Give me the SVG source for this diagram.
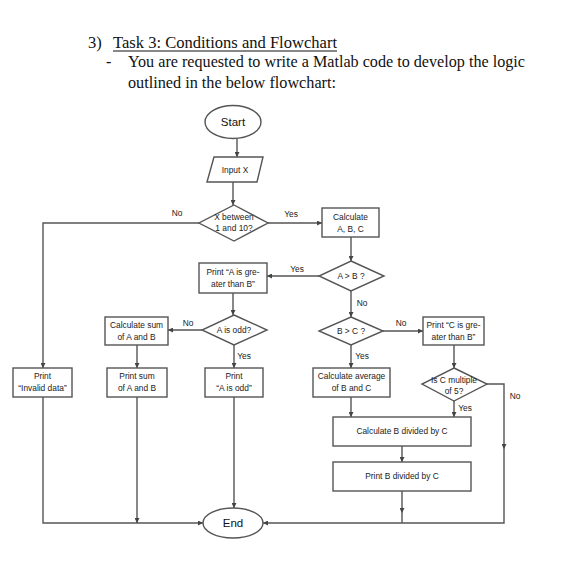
<svg xmlns="http://www.w3.org/2000/svg" width="584" height="584" viewBox="0 0 584 584">
<style>
.bx{fill:#fff;stroke:#555;stroke-width:1.4}
.ln{fill:none;stroke:#555;stroke-width:1.4}
.t{font-family:"Liberation Sans",Arial,sans-serif;font-size:8.4px;fill:#222;text-anchor:middle}
.lb{font-family:"Liberation Sans",Arial,sans-serif;font-size:8.4px;fill:#222;text-anchor:middle}
.big{font-family:"Liberation Sans",Arial,sans-serif;font-size:11.5px;fill:#111;text-anchor:middle}
.hd{font-family:"Liberation Serif","Times New Roman",serif;fill:#111}
</style>
<defs>
<marker id="ah" markerWidth="5" markerHeight="5" refX="5" refY="2.5" orient="auto" markerUnits="userSpaceOnUse">
<path d="M0,0 L5,2.5 L0,5 z" fill="#444"/>
</marker>
</defs>
<rect width="584" height="584" fill="#fff"/>
<g id="header">
<text class="hd" x="88" y="48" font-size="16.5">3)</text>
<text class="hd" x="113" y="48" font-size="16.5" textLength="224" lengthAdjust="spacingAndGlyphs">Task 3: Conditions and Flowchart</text>
<line x1="113" y1="51" x2="337" y2="51" stroke="#111" stroke-width="1"/>
<text class="hd" x="106" y="67" font-size="16">-</text>
<text class="hd" x="128" y="67" font-size="16" textLength="397" lengthAdjust="spacingAndGlyphs">You are requested to write a Matlab code to develop the logic</text>
<text class="hd" x="128" y="88" font-size="16" textLength="208" lengthAdjust="spacingAndGlyphs">outlined in the below flowchart:</text>
</g>
<g id="connectors">
<path class="ln" d="M237,139 V157" marker-end="url(#ah)"/>
<path class="ln" d="M233,182 V205" marker-end="url(#ah)"/>
<path class="ln" d="M268,223 H322" marker-end="url(#ah)"/>
<path class="ln" d="M199,223 H43 V368" marker-end="url(#ah)"/>
<path class="ln" d="M351,237 V261" marker-end="url(#ah)"/>
<path class="ln" d="M319,276 H267" marker-end="url(#ah)"/>
<path class="ln" d="M233,293 V315" marker-end="url(#ah)"/>
<path class="ln" d="M202,330 H168" marker-end="url(#ah)"/>
<path class="ln" d="M137,345 V368" marker-end="url(#ah)"/>
<path class="ln" d="M234,345 V368" marker-end="url(#ah)"/>
<path class="ln" d="M351,291 V317" marker-end="url(#ah)"/>
<path class="ln" d="M383,331 H423" marker-end="url(#ah)"/>
<path class="ln" d="M351,345 V368" marker-end="url(#ah)"/>
<path class="ln" d="M454,345 V368" marker-end="url(#ah)"/>
<path class="ln" d="M454,401 V417" marker-end="url(#ah)"/>
<path class="ln" d="M351,397 V417" marker-end="url(#ah)"/>
<path class="ln" d="M402,446 V462" marker-end="url(#ah)"/>
<path class="ln" d="M402,491 V513" marker-end="url(#ah)"/>
<path class="ln" d="M402,513 V523"/>
<path class="ln" d="M487,384 H504 V449" marker-end="url(#ah)"/>
<path class="ln" d="M504,449 V523 H263" marker-end="url(#ah)"/>
<path class="ln" d="M43,397 V523 H203" marker-end="url(#ah)"/>
<path class="ln" d="M137,397 V523" marker-end="url(#ah)"/>
<path class="ln" d="M234,397 V508" marker-end="url(#ah)"/>
<text class="lb" x="177" y="216">No</text>
<text class="lb" x="291" y="217">Yes</text>
<text class="lb" x="297" y="272">Yes</text>
<text class="lb" x="188" y="326">No</text>
<text class="lb" x="244" y="359">Yes</text>
<text class="lb" x="362" y="306">No</text>
<text class="lb" x="401" y="326">No</text>
<text class="lb" x="362" y="359">Yes</text>
<text class="lb" x="465" y="411">Yes</text>
<text class="lb" x="515" y="399">No</text>
</g>
<g id="start">
<ellipse class="bx" cx="233" cy="122" rx="28" ry="16.5"/>
<text class="big" x="233" y="126">Start</text>
</g>
<g id="input">
<polygon class="bx" points="214,157 263,157 257,182 207,182"/>
<text class="t" x="235" y="173">Input X</text>
</g>
<g id="dec-range">
<polygon class="bx" points="234,205 268,223 234,241 199,223"/>
<text class="t" x="234" y="220">X between</text>
<text class="t" x="234" y="231">1 and 10?</text>
</g>
<g id="calc-abc">
<rect class="bx" x="322" y="208" width="57" height="29"/>
<text class="t" x="350.5" y="220">Calculate</text>
<text class="t" x="350.5" y="232">A, B, C</text>
</g>
<g id="dec-agtb">
<polygon class="bx" points="351,261 384,276 351,291 319,276"/>
<text class="t" x="351" y="279">A &gt; B ?</text>
</g>
<g id="print-agtb">
<rect class="bx" x="199" y="263" width="68" height="30"/>
<text class="t" x="233" y="275">Print “A is gre-</text>
<text class="t" x="233" y="287">ater than B”</text>
</g>
<g id="dec-aodd">
<polygon class="bx" points="234,315 267,330 234,345 202,330"/>
<text class="t" x="234" y="333">A is odd?</text>
</g>
<g id="calc-sum">
<rect class="bx" x="105" y="317" width="63" height="28"/>
<text class="t" x="136.5" y="328">Calculate sum</text>
<text class="t" x="136.5" y="340">of A and B</text>
</g>
<g id="print-invalid">
<rect class="bx" x="13" y="368" width="59" height="29"/>
<text class="t" x="42.5" y="379">Print</text>
<text class="t" x="42.5" y="391">“Invalid data”</text>
</g>
<g id="print-sum">
<rect class="bx" x="107" y="368" width="60" height="29"/>
<text class="t" x="137" y="379">Print sum</text>
<text class="t" x="137" y="391">of A and B</text>
</g>
<g id="print-aodd">
<rect class="bx" x="205" y="368" width="58" height="29"/>
<text class="t" x="234" y="379">Print</text>
<text class="t" x="234" y="391">“A is odd”</text>
</g>
<g id="dec-bgtc">
<polygon class="bx" points="351,317 383,331 351,345 319,331"/>
<text class="t" x="351" y="334">B &gt; C ?</text>
</g>
<g id="print-cgtb">
<rect class="bx" x="423" y="317" width="61" height="28"/>
<text class="t" x="453.5" y="328">Print “C is gre-</text>
<text class="t" x="453.5" y="340">ater than B”</text>
</g>
<g id="calc-avg">
<rect class="bx" x="313" y="368" width="77" height="29"/>
<text class="t" x="351.5" y="379">Calculate average</text>
<text class="t" x="351.5" y="391">of B and C</text>
</g>
<g id="dec-mult5">
<polygon class="bx" points="454,368 487,384 454,401 422,384"/>
<text class="t" x="454" y="383">Is C multiple</text>
<text class="t" x="454" y="394">of 5?</text>
</g>
<g id="calc-div">
<rect class="bx" x="333" y="417" width="138" height="29"/>
<text class="t" x="402" y="434">Calculate B divided by C</text>
</g>
<g id="print-div">
<rect class="bx" x="333" y="462" width="138" height="29"/>
<text class="t" x="402" y="479">Print B divided by C</text>
</g>
<g id="end">
<ellipse class="bx" cx="233" cy="523" rx="30" ry="15"/>
<text class="big" x="233" y="527">End</text>
</g>
</svg>
